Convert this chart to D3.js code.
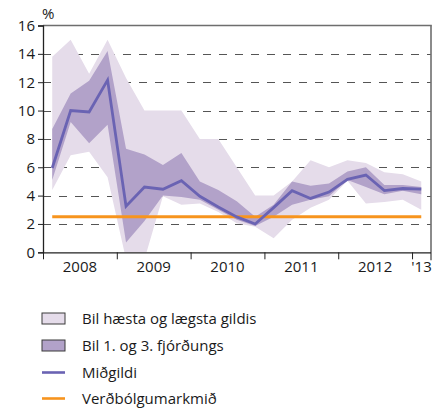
<!DOCTYPE html>
<html>
<head>
<meta charset="utf-8">
<script src="https://cdn.jsdelivr.net/npm/d3@7"></script>
<style>
  html, body { margin: 0; padding: 0; background: #fff; }
  svg { display: block; font-family: "Open Sans", "Noto Sans", sans-serif; }
</style>
</head>
<body>
<svg id="chart" width="443" height="408"></svg>
<script>
// Survey quarters, 2008 Q1 – 2013 Q1
const quarters = [
  "2008Q1","2008Q2","2008Q3","2008Q4",
  "2009Q1","2009Q2","2009Q3","2009Q4",
  "2010Q1","2010Q2","2010Q3","2010Q4",
  "2011Q1","2011Q2","2011Q3","2011Q4",
  "2012Q1","2012Q2","2012Q3","2012Q4",
  "2013Q1"
];
// Highest and lowest responses (%)
const highest = [13.8, 15.0, 12.6, 15.0, 12.3, 10.0, 10.0, 10.0, 8.0, 8.0, 6.0, 4.0, 4.0, 5.0, 6.5, 6.0, 6.5, 6.3, 5.65, 5.5, 5.0];
const lowest  = [4.4, 6.85, 7.1, 5.3, -0.5, -0.5, 3.95, 3.35, 3.45, 2.85, 2.05, 1.8, 1.0, 2.3, 3.15, 3.7, 5.05, 3.45, 3.55, 3.7, 3.0];
// Third and first quartiles (%)
const q3 = [8.7, 11.2, 12.1, 14.2, 7.3, 6.9, 6.15, 7.0, 5.0, 4.4, 3.6, 2.5, 3.35, 5.0, 4.7, 4.85, 5.7, 6.0, 4.75, 4.75, 4.6];
const q1 = [5.1, 9.2, 7.7, 9.0, 0.7, 2.2, 4.0, 3.9, 3.7, 3.0, 2.3, 1.85, 2.5, 3.35, 3.7, 3.95, 5.1, 4.6, 4.1, 4.35, 4.1];
// Median (%)
const median = [5.95, 10.0, 9.9, 12.15, 3.25, 4.6, 4.45, 5.05, 3.95, 3.2, 2.5, 2.0, 3.15, 4.35, 3.8, 4.25, 5.15, 5.45, 4.35, 4.5, 4.45];
// Inflation target (%)
const inflationTarget = 2.5;

// Axis labels
const yTicks = [0, 2, 4, 6, 8, 10, 12, 14, 16];
const yearTicks = [2008, 2009, 2010, 2011, 2012, 2013];
const yearLabels = ["2008", "2009", "2010", "2011", "2012", "'13"];
const legendLabels = ["Bil hæsta og lægsta gildis", "Bil 1. og 3. fjórðungs", "Miðgildi", "Verðbólgumarkmið"];

const colors = {
  outer: "#e5dcea",
  inner: "#b2a2c9",
  median: "#6a63b3",
  target: "#f7941d",
  grid: "#555",
  frame: "#6e6e6e"
};

const svg = d3.select("#chart");
const plot = { left: 43, right: 431, top: 25.5, bottom: 252.3 };
const xEnd = 2013.257;

const x = d3.scaleLinear().domain([2008, xEnd]).range([plot.left, plot.right]);
const y = d3.scaleLinear().domain([0, 16]).range([plot.bottom, plot.top]);

// Mid-quarter position in decimal years
const qPos = s => +s.slice(0, 4) + (+s.slice(5) - 0.5) / 4;
const rows = quarters.map((q, i) => ({
  t: qPos(q), hi: highest[i], lo: lowest[i], q3: q3[i], q1: q1[i], med: median[i]
}));

svg.append("clipPath").attr("id", "plotClip")
  .append("rect")
  .attr("x", plot.left).attr("y", plot.top)
  .attr("width", plot.right - plot.left).attr("height", plot.bottom - plot.top);

// Dashed gridlines
svg.append("g")
  .selectAll("line")
  .data(yTicks.filter(v => v > 0 && v < 16))
  .join("line")
  .attr("x1", plot.left).attr("x2", plot.right)
  .attr("y1", d => Math.round(y(d)) + 0.5).attr("y2", d => Math.round(y(d)) + 0.5)
  .attr("stroke", colors.grid)
  .attr("stroke-width", 1.2)
  .attr("stroke-dasharray", "8,8");

const bands = svg.append("g").attr("clip-path", "url(#plotClip)");

bands.append("path")
  .datum(rows)
  .attr("fill", colors.outer)
  .attr("d", d3.area().x(d => x(d.t)).y0(d => y(d.lo)).y1(d => y(d.hi)));

bands.append("path")
  .datum(rows)
  .attr("fill", colors.inner)
  .attr("d", d3.area().x(d => x(d.t)).y0(d => y(d.q1)).y1(d => y(d.q3)));

// Inflation target
svg.append("line")
  .attr("x1", x(rows[0].t)).attr("x2", x(rows[rows.length - 1].t))
  .attr("y1", y(inflationTarget)).attr("y2", y(inflationTarget))
  .attr("stroke", colors.target)
  .attr("stroke-width", 3);

// Median line
svg.append("path")
  .datum(rows)
  .attr("fill", "none")
  .attr("stroke", colors.median)
  .attr("stroke-width", 2.8)
  .attr("stroke-linejoin", "miter")
  .attr("d", d3.line().x(d => x(d.t)).y(d => y(d.med)));

// Frame: top and right edges
svg.append("line")
  .attr("x1", plot.left).attr("x2", plot.right + 0.8)
  .attr("y1", plot.top).attr("y2", plot.top)
  .attr("stroke", colors.frame).attr("stroke-width", 1.6);
svg.append("line")
  .attr("x1", plot.right).attr("x2", plot.right)
  .attr("y1", plot.top).attr("y2", plot.bottom + 8)
  .attr("stroke", colors.frame).attr("stroke-width", 1.6);

// Y axis
const yAxis = svg.append("g")
  .attr("transform", `translate(${plot.left},0)`)
  .call(d3.axisLeft(y).tickValues(yTicks).tickSize(5).tickPadding(3).tickFormat(d3.format("d")));
yAxis.select(".domain").attr("stroke", "#222").attr("stroke-width", 1.3);
yAxis.selectAll(".tick line").attr("stroke", "#222");
yAxis.selectAll("text").attr("font-size", 15).attr("fill", "#1a1a1a")
  .attr("font-family", "'Open Sans', sans-serif");

// X axis: year boundary ticks
const xAxis = svg.append("g")
  .attr("transform", `translate(0,${plot.bottom})`)
  .call(d3.axisBottom(x).tickValues(yearTicks).tickSize(7).tickFormat(""));
xAxis.select(".domain").attr("stroke", "#222").attr("stroke-width", 1.3)
  .attr("d", `M${plot.left},0.5H${plot.right}`);
xAxis.selectAll(".tick line").attr("stroke", "#222");

// Year labels centred in each year
const labelPos = yearTicks.map((yr, i) => i < yearTicks.length - 1 ? yr + 0.5 : (yr + xEnd) / 2);
svg.append("g")
  .selectAll("text")
  .data(yearLabels)
  .join("text")
  .attr("x", (d, i) => x(labelPos[i]))
  .attr("y", 272)
  .attr("text-anchor", "middle")
  .attr("font-size", 15)
  .attr("fill", "#1a1a1a")
  .text(d => d);

// Unit label
svg.append("text")
  .attr("x", 42).attr("y", 19)
  .attr("font-size", 15).attr("fill", "#1a1a1a")
  .text("%");

// Legend
const legend = svg.append("g");
const rowY = [318.5, 345.5, 372.5, 398.5];
legendLabels.forEach((label, i) => {
  const cy = rowY[i];
  if (i < 2) {
    legend.append("rect")
      .attr("x", 42).attr("y", cy - 5.5)
      .attr("width", 23).attr("height", 11)
      .attr("fill", i === 0 ? colors.outer : colors.inner)
      .attr("stroke", "#3a3a3a").attr("stroke-width", 1);
  } else {
    legend.append("line")
      .attr("x1", 42).attr("x2", 65)
      .attr("y1", cy).attr("y2", cy)
      .attr("stroke", i === 2 ? colors.median : colors.target)
      .attr("stroke-width", 2.6);
  }
  legend.append("text")
    .attr("x", 82).attr("y", cy + 5.5)
    .attr("font-size", 15).attr("fill", "#1a1a1a")
    .text(label);
});
</script>
</body>
</html>
